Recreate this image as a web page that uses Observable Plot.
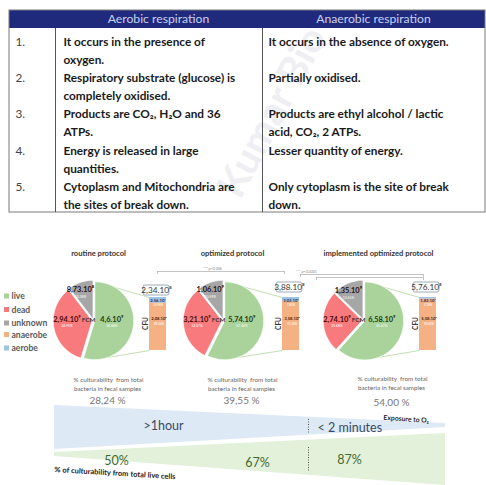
<!DOCTYPE html>
<html><head><meta charset="utf-8">
<script src="https://cdn.jsdelivr.net/npm/d3@7"></script>
<script src="https://cdn.jsdelivr.net/npm/@observablehq/plot@0.6"></script>
<style>body{margin:0;background:#fff;} svg{display:block;}</style>
</head><body><div id="chart"></div>
<script>
// ---------- DATA ----------
const headers = ["Aerobic respiration", "Anaerobic respiration"];
const rowNumbers = ["1.", "2.", "3.", "4.", "5."];
const aerobicText = [
  ["It occurs in the presence of", "oxygen."],
  ["Respiratory substrate (glucose) is", "completely oxidised."],
  ["Products are CO₂, H₂O and 36", "ATPs."],
  ["Energy is released in large", "quantities."],
  ["Cytoplasm and Mitochondria are", "the sites of break down."]
];
const anaerobicText = [
  ["It occurs in the absence of oxygen."],
  ["Partially oxidised."],
  ["Products are ethyl alcohol / lactic", "acid, CO₂, 2 ATPs."],
  ["Lesser quantity of energy."],
  ["Only cytoplasm is the site of break", "down."]
];
const protocols = ["routine protocol", "optimized protocol", "implemented optimized protocol"];
const fcmLive = [4.6e9, 5.74e9, 6.58e9];
const fcmDead = [2.94e9, 3.21e9, 2.74e9];
const fcmUnknown = [8.73e8, 1.06e9, 1.35e9];
const cfuAnaerobe = [2.08e8, 3.58e8, 5.58e8];
const cfuAerobe = [2.56e7, 3.03e7, 1.83e7];
const cfuTotal = [2.34e8, 3.88e8, 5.76e8];
const culturabilityTotal = [28.24, 39.55, 54.00];
const culturabilityLive = [50, 67, 87];
const exposureLabels = [">1hour", "< 2 minutes"];
const significance = ["*** p<0.006", "*** p<0.0001", "ns"];
const legendLabels = ["live", "dead", "unknown", "anaerobe", "aerobe"];

// ---------- LAYOUT / STYLE ----------
const W = 486, H = 485;
const FONT = "Lato, 'Open Sans', sans-serif";
const colors = {live: "#a9d39a", dead: "#f87a7d", unknown: "#a6a6a6", anaerobe: "#f4b183", aerobe: "#9dc3e6"};
const labelColors = {live: "#1e3a14", dead: "#4a0c0c", unknown: "#2a1010"};
const pieCx = [93, 223, 363], pieCy = 320, R = 39, explode = 1.3;
const barLeft = [149, 282, 419], barW = 17, barTop = 297, barBottom = 350;
const captionX = [107, 241, 391];

const sup = s => String(s).replace(/\d/g, d => "⁰¹²³⁴⁵⁶⁷⁸⁹"[d]);
function sci(v) {
  const e = Math.floor(Math.log10(v));
  let m = (v / Math.pow(10, e)).toFixed(2).replace(/0+$/, "").replace(/\.$/, "");
  return m.replace(".", ",") + ".10" + sup(e);
}
const pct = d3.format(".2%");

// ---------- TABLE ----------
const numberLines = [], tableLines = [];
rowNumbers.forEach((n, r) => {
  const y0 = 42 + r * 36.1;
  numberLines.push({x: 15, y: y0, text: n});
  aerobicText[r].forEach((t, j) => tableLines.push({x: 63, y: y0 + j * 18, text: t}));
  anaerobicText[r].forEach((t, j) => tableLines.push({x: 268, y: y0 + j * 18, text: t}));
});

// ---------- PIES ----------
const pieGen = d3.pie().sort(null).value(d => d.value);
const sliceRows = [], valueLabels = [], pctLabels = [];
protocols.forEach((p, i) => {
  const vals = [
    {cat: "live", value: fcmLive[i]},
    {cat: "dead", value: fcmDead[i]},
    {cat: "unknown", value: fcmUnknown[i]}
  ];
  const total = d3.sum(vals, d => d.value);
  pieGen(vals).forEach(a => {
    const mid = (a.startAngle + a.endAngle) / 2;
    const cx = pieCx[i] + explode * Math.sin(mid), cy = pieCy - explode * Math.cos(mid);
    const id = i + "-" + a.data.cat, fill = colors[a.data.cat];
    sliceRows.push({id, x: cx, y: cy, fill});
    const n = Math.max(3, Math.ceil((a.endAngle - a.startAngle) / 0.03));
    for (let k = 0; k <= n; k++) {
      const t = a.startAngle + (a.endAngle - a.startAngle) * k / n;
      sliceRows.push({id, x: cx + R * Math.sin(t), y: cy - R * Math.cos(t), fill});
    }
    sliceRows.push({id, x: cx, y: cy, fill});
    let lx, ly;
    if (a.data.cat === "live") { lx = pieCx[i] + 0.47 * R; ly = pieCy - 1; }
    else if (a.data.cat === "dead") { lx = pieCx[i] - 0.68 * R; ly = pieCy - 1; }
    else { lx = pieCx[i] + 0.8 * R * Math.sin(mid) - 3; ly = pieCy - 0.8 * R * Math.cos(mid) - 1; }
    valueLabels.push({x: lx, y: ly, text: sci(a.data.value), c: labelColors[a.data.cat]});
    pctLabels.push({x: lx, y: ly + 6.8, text: pct(a.data.value / total)});
  });
});

// ---------- BARS ----------
const barRects = [], barTexts = [], barPct = [], boxes = [], links = [];
protocols.forEach((p, i) => {
  const tot = cfuAnaerobe[i] + cfuAerobe[i];
  const ySplit = barTop + (barBottom - barTop) * cfuAerobe[i] / tot;
  const x1 = barLeft[i], x2 = barLeft[i] + barW, xc = (x1 + x2) / 2;
  barRects.push({x1, x2, y1: barTop, y2: ySplit, fill: colors.aerobe});
  barRects.push({x1, x2, y1: ySplit, y2: barBottom, fill: colors.anaerobe});
  barTexts.push({x: xc, y: barTop + 3, text: sci(cfuAerobe[i]), c: "#1f2f5a"});
  barPct.push({x: xc, y: barTop + 7.5, text: pct(cfuAerobe[i] / tot)});
  barTexts.push({x: xc + 1, y: 318, text: sci(cfuAnaerobe[i]), c: "#4a2306"});
  barPct.push({x: xc + 1, y: 323.5, text: pct(cfuAnaerobe[i] / tot)});
  boxes.push({x: xc - 1.5, y: [290, 287, 287][i], text: sci(cfuTotal[i])});
  links.push({x1: pieCx[i] + 4, y1: pieCy - R + 1, x2: x1, y2: barTop});
  links.push({x1: pieCx[i] + 14, y1: pieCy + R - 2, x2: x1, y2: barBottom});
});

// ---------- LEGEND ----------
const legendY = [296, 309.5, 323, 334.5, 348];
const legend = legendLabels.map((l, k) => ({label: l, y: legendY[k], fill: colors[l]}));

// ---------- CAPTIONS ----------
const captions = [];
protocols.forEach((p, i) => {
  const dy = i === 2 ? -1 : 0;
  captions.push({x: captionX[i] + 1, y: 379 + dy, text: "% culturability  from total"});
  captions.push({x: captionX[i], y: 388 + dy, text: "bacteria in fecal samples"});
});
const pctTotals = culturabilityTotal.map((v, i) => ({x: captionX[i], y: 400 + (i === 2 ? 2 : 0), text: v.toFixed(2).replace(".", ",") + " %"}));

// ---------- WEDGES ----------
const wx0 = 54, wx1 = 445;
const blueWedge = [{x: wx0, y1: 405, y2: 449}, {x: wx1, y1: 423, y2: 427}];
const greenWedge = [{x: wx0, y1: 452, y2: 456}, {x: wx1, y1: 433, y2: 485}];
const liveX = [116, 257, 349], liveY = [460, 462, 459];

const brackets = [
  {x1: 157, x2: 284, y: 271, lx: 212, ly: 268, text: significance[0], a: "middle"},
  {x1: 300, x2: 423, y: 274, lx: 306, ly: 271, text: significance[1], a: "start"},
  {x1: 316, x2: 423, y: 277, lx: 359, ly: 280.5, text: significance[2], a: "middle"}
];

const one = [0];
const chart = Plot.plot({
  width: W, height: H,
  margin: 0,
  x: {domain: [0, W], range: [0, W], axis: null},
  y: {domain: [0, H], range: [0, H], axis: null},
  color: {type: "identity"},
  style: {background: "#fff", fontFamily: FONT},
  marks: [
    // watermark
    Plot.text(["Kumar Bio"], {x: () => 272, y: () => 112, text: d => d, rotate: -62, fontSize: 40, fontWeight: "bold", fill: "#efeff3", fontFamily: FONT}),
    // table
    Plot.rect(one, {x1: () => 9, x2: () => 485, y1: () => 10, y2: () => 28, fill: "#1f2a7c"}),
    Plot.rect(one, {x1: () => 9, x2: () => 485, y1: () => 10, y2: () => 212, fill: "none", stroke: "#7a7a7a", strokeWidth: 1}),
    Plot.ruleX([55, 262], {x: d => d, y1: () => 28, y2: () => 212, stroke: "#555", strokeWidth: 1}),
    Plot.text(headers, {x: (d, i) => [158, 373][i], y: () => 19, text: d => d, fill: "#c9d1f2", fontSize: 12.2, fontFamily: FONT}),
    Plot.text(numberLines, {x: "x", y: "y", text: "text", fill: "#444", textAnchor: "start", fontSize: 11.8, fontFamily: FONT}),
    Plot.text(tableLines, {x: "x", y: "y", text: "text", fill: "#1a1a1a", fontWeight: "bold", textAnchor: "start", fontSize: 11.8, fontFamily: FONT}),
    // titles
    Plot.text(protocols, {x: (d, i) => [98, 232, 378][i], y: () => 253, text: d => d, fontSize: 7.6, fontWeight: "bold", fill: "#333", fontFamily: FONT}),
    // brackets
    Plot.ruleY(brackets, {x1: "x1", x2: "x2", y: "y", stroke: "#aaa", strokeWidth: 0.7}),
    Plot.ruleX(brackets, {x: "x1", y1: "y", y2: d => d.y + 3, stroke: "#aaa", strokeWidth: 0.7}),
    Plot.ruleX(brackets, {x: "x2", y1: "y", y2: d => d.y + 3, stroke: "#aaa", strokeWidth: 0.7}),
    Plot.text(brackets, {x: "lx", y: "ly", text: "text", textAnchor: "a", fontSize: 3.6, fill: "#888", fontFamily: FONT}),
    // connectors
    Plot.link(links, {x1: "x1", y1: "y1", x2: "x2", y2: "y2", stroke: "#c3dfb3", strokeWidth: 1}),
    // pies
    Plot.line(sliceRows, {x: "x", y: "y", z: "id", fill: "fill", stroke: "white", strokeWidth: 0.8, curve: "linear"}),
    Plot.text(valueLabels, {x: "x", y: "y", text: "text", fill: "c", fontSize: 7.4, fontWeight: "bold", fontFamily: FONT}),
    Plot.text(pctLabels, {x: "x", y: "y", text: "text", fill: "#fff", fontSize: 3.4, fontFamily: FONT}),
    Plot.text(pieCx, {x: d => d - 5, y: () => pieCy - 1, text: () => "FCM", fill: "#333", fontSize: 6.3, fontWeight: "bold", fontFamily: FONT}),
    // bars
    Plot.rect(barRects, {x1: "x1", x2: "x2", y1: "y1", y2: "y2", fill: "fill"}),
    Plot.text(barTexts, {x: "x", y: "y", text: "text", fill: "c", fontSize: 4.2, fontWeight: "bold", fontFamily: FONT}),
    Plot.text(barPct, {x: "x", y: "y", text: "text", fill: "#fff", fontSize: 3, fontFamily: FONT}),
    Plot.text(barLeft, {x: d => d - 4, y: () => 323, text: () => "CFU", rotate: -90, fill: "#333", fontSize: 6.5, fontWeight: "bold", fontFamily: FONT}),
    Plot.rect(boxes, {x1: d => d.x - 13, x2: d => d.x + 13, y1: d => d.y - 5, y2: d => d.y + 5, fill: "#fff", stroke: "#8796a6", strokeWidth: 0.8, rx: 2}),
    Plot.text(boxes, {x: "x", y: "y", text: "text", fill: "#333", fontSize: 8.2, fontFamily: FONT}),
    // legend
    Plot.rect(legend, {x1: () => 4, x2: () => 9, y1: d => d.y - 2.5, y2: d => d.y + 2.5, fill: "fill"}),
    Plot.text(legend, {x: () => 11, y: "y", text: "label", textAnchor: "start", fill: "#5a5a5a", fontSize: 8.6, fontWeight: "bold", fontFamily: FONT}),
    // captions
    Plot.text(captions, {x: "x", y: "y", text: "text", fill: "#666", fontSize: 6.3, fontFamily: FONT}),
    Plot.text(pctTotals, {x: "x", y: "y", text: "text", fill: "#777", fontSize: 10, fontFamily: FONT}),
    // wedges
    Plot.area(blueWedge, {x1: "x", y1: "y1", y2: "y2", fill: "#dde9f5"}),
    Plot.area(greenWedge, {x1: "x", y1: "y1", y2: "y2", fill: "#e3f0da"}),
    Plot.ruleX([308], {x: d => d, y1: () => 419, y2: () => 433, stroke: "#444", strokeWidth: 0.9, strokeDasharray: "1,1.5"}),
    Plot.ruleX([308], {x: d => d, y1: () => 447, y2: () => 472, stroke: "#444", strokeWidth: 0.9, strokeDasharray: "1,1.5"}),
    Plot.text(exposureLabels, {x: (d, i) => [143, 317][i], y: (d, i) => [425, 427][i], text: d => d, textAnchor: "start", fill: "#3b4966", fontSize: 12.5, fontFamily: FONT}),
    Plot.text(["Exposure to O₂"], {x: () => 383, y: () => 417, text: d => d, textAnchor: "start", rotate: 4, fill: "#222", fontSize: 6.8, fontWeight: "bold", fontFamily: FONT}),
    Plot.text(culturabilityLive, {x: (d, i) => liveX[i], y: (d, i) => liveY[i], text: d => d + "%", fill: "#3f6a2c", fontSize: 12.5, fontFamily: FONT}),
    Plot.text(["% of culturability from total live cells"], {x: () => 54, y: () => 469, text: d => d, textAnchor: "start", rotate: 3.5, fill: "#222", fontSize: 7.5, fontWeight: "bold", fontFamily: FONT})
  ]
});
document.getElementById("chart").appendChild(chart);
</script>
</body></html>
